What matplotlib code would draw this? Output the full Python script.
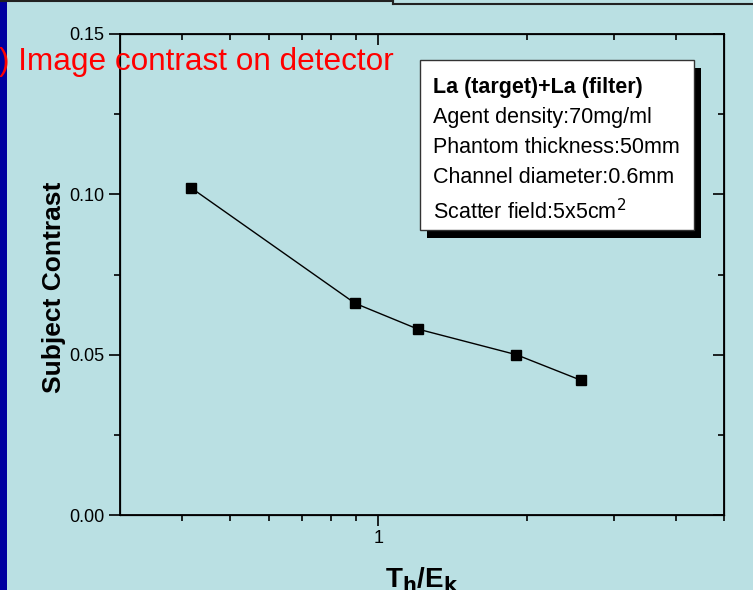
import matplotlib
matplotlib.use("Agg")
import matplotlib.pyplot as plt
from matplotlib.patches import Rectangle
from matplotlib.lines import Line2D
from matplotlib.ticker import FixedLocator, NullFormatter, FixedFormatter

plt.rcParams['font.family'] = ['Liberation Sans', 'DejaVu Sans']

# measured points
ratio = [0.418, 0.897, 1.20, 1.90, 2.57]
contrast = [0.102, 0.066, 0.058, 0.050, 0.042]

y_ticks = [0.00, 0.05, 0.10, 0.15]
y_ticklabels = ['0.00', '0.05', '0.10', '0.15']
y_minor = [0.025, 0.075, 0.125]
x_ticks = [1]
x_minor = [0.4, 0.5, 0.6, 0.7, 0.8, 0.9, 2, 3, 4, 5]

info_lines = ['Agent density:70mg/ml', 'Phantom thickness:50mm',
              'Channel diameter:0.6mm', 'Scatter field:5x5cm$^2$']

bg = '#bae0e3'
W, H = 753, 590

fig = plt.figure(figsize=(W / 100, H / 100), dpi=100, facecolor=bg)


def fpos(x, y):
    # pixel position -> figure fraction
    return x / W, 1 - y / H


ax = fig.add_axes([120 / W, 1 - 515 / H, 604 / W, 481 / H], facecolor=bg)
ax.set_xscale('log')
ax.set_xlim(0.3, 5)
ax.set_ylim(0, 0.15)

ax.plot(ratio, contrast, color='black', lw=1.0, marker='s', ms=6.5,
        mfc='black', mec='black', zorder=3)

ax.xaxis.set_major_locator(FixedLocator(x_ticks))
ax.xaxis.set_major_formatter(FixedFormatter(['1']))
ax.xaxis.set_minor_locator(FixedLocator(x_minor))
ax.xaxis.set_minor_formatter(NullFormatter())
ax.yaxis.set_major_locator(FixedLocator(y_ticks))
ax.yaxis.set_major_formatter(FixedFormatter(y_ticklabels))
ax.yaxis.set_minor_locator(FixedLocator(y_minor))

ax.tick_params(which='major', direction='out', length=8, width=1.2,
               labelsize=13, pad=3)
ax.tick_params(which='minor', direction='out', length=4.5, width=1.2)
for s in ax.spines.values():
    s.set_linewidth(1.3)

# inward ticks on top and right
top = ax.twiny()
top.set_xscale('log')
top.set_xlim(ax.get_xlim())
top.xaxis.set_major_locator(FixedLocator(x_ticks))
top.xaxis.set_minor_locator(FixedLocator(x_minor))
top.xaxis.set_major_formatter(NullFormatter())
top.xaxis.set_minor_formatter(NullFormatter())
top.tick_params(which='major', direction='in', length=8, width=1.2)
top.tick_params(which='minor', direction='in', length=4.5, width=1.2)

right = ax.twinx()
right.set_ylim(ax.get_ylim())
right.yaxis.set_major_locator(FixedLocator(y_ticks))
right.yaxis.set_minor_locator(FixedLocator(y_minor))
right.yaxis.set_major_formatter(NullFormatter())
right.tick_params(which='major', direction='in', length=8, width=1.2)
right.tick_params(which='minor', direction='in', length=4.5, width=1.2)

ax.set_ylabel('Subject Contrast', fontsize=19, fontweight='bold')
ax.yaxis.set_label_coords(-0.09, 0.474)
fig.text(*fpos(422, 580), 'T$_\\mathbf{h}$/E$_\\mathbf{k}$', fontsize=20,
         fontweight='bold', ha='center', va='center')

# dark blue strip at the left edge
fig.add_artist(Rectangle((0, 0), 7 / W, 1, transform=fig.transFigure,
                         facecolor='#0000a0', edgecolor='none', zorder=1))

# leftover frame lines along the top edge
fig.add_artist(Line2D([0, 393 / W], [1 - 1 / H, 1 - 1 / H], color='#222222', lw=1.5))
fig.add_artist(Line2D([393 / W, 393 / W], [1, 1 - 4 / H], color='#222222', lw=1.5))
fig.add_artist(Line2D([393 / W, 1], [1 - 4 / H, 1 - 4 / H], color='#222222', lw=1.5))

fig.text(*fpos(394, 70), '(b) Image contrast on detector', color='red',
         fontsize=22.7, ha='right', va='baseline', zorder=5)

# info box with drop shadow
x0, y0 = fpos(420, 230)
bw, bh = 274 / W, 170 / H
fig.add_artist(Rectangle((x0 + 7 / W, y0 - 8 / H), bw, bh, transform=fig.transFigure,
                         facecolor='black', edgecolor='none', zorder=6))
fig.add_artist(Rectangle((x0, y0), bw, bh, transform=fig.transFigure,
                         facecolor='white', edgecolor='#333333', lw=1.0, zorder=7))
fig.text(*fpos(433, 93), 'La (target)+La (filter)', fontsize=15.5,
         fontweight='bold', va='baseline', zorder=8)
for i, line in enumerate(info_lines):
    yb = 123 + 30 * i + (6 if i == 3 else 0)
    fig.text(*fpos(433, yb), line, fontsize=15.5, va='baseline', zorder=8)

fig.savefig('out.png', dpi=100, facecolor=bg)
